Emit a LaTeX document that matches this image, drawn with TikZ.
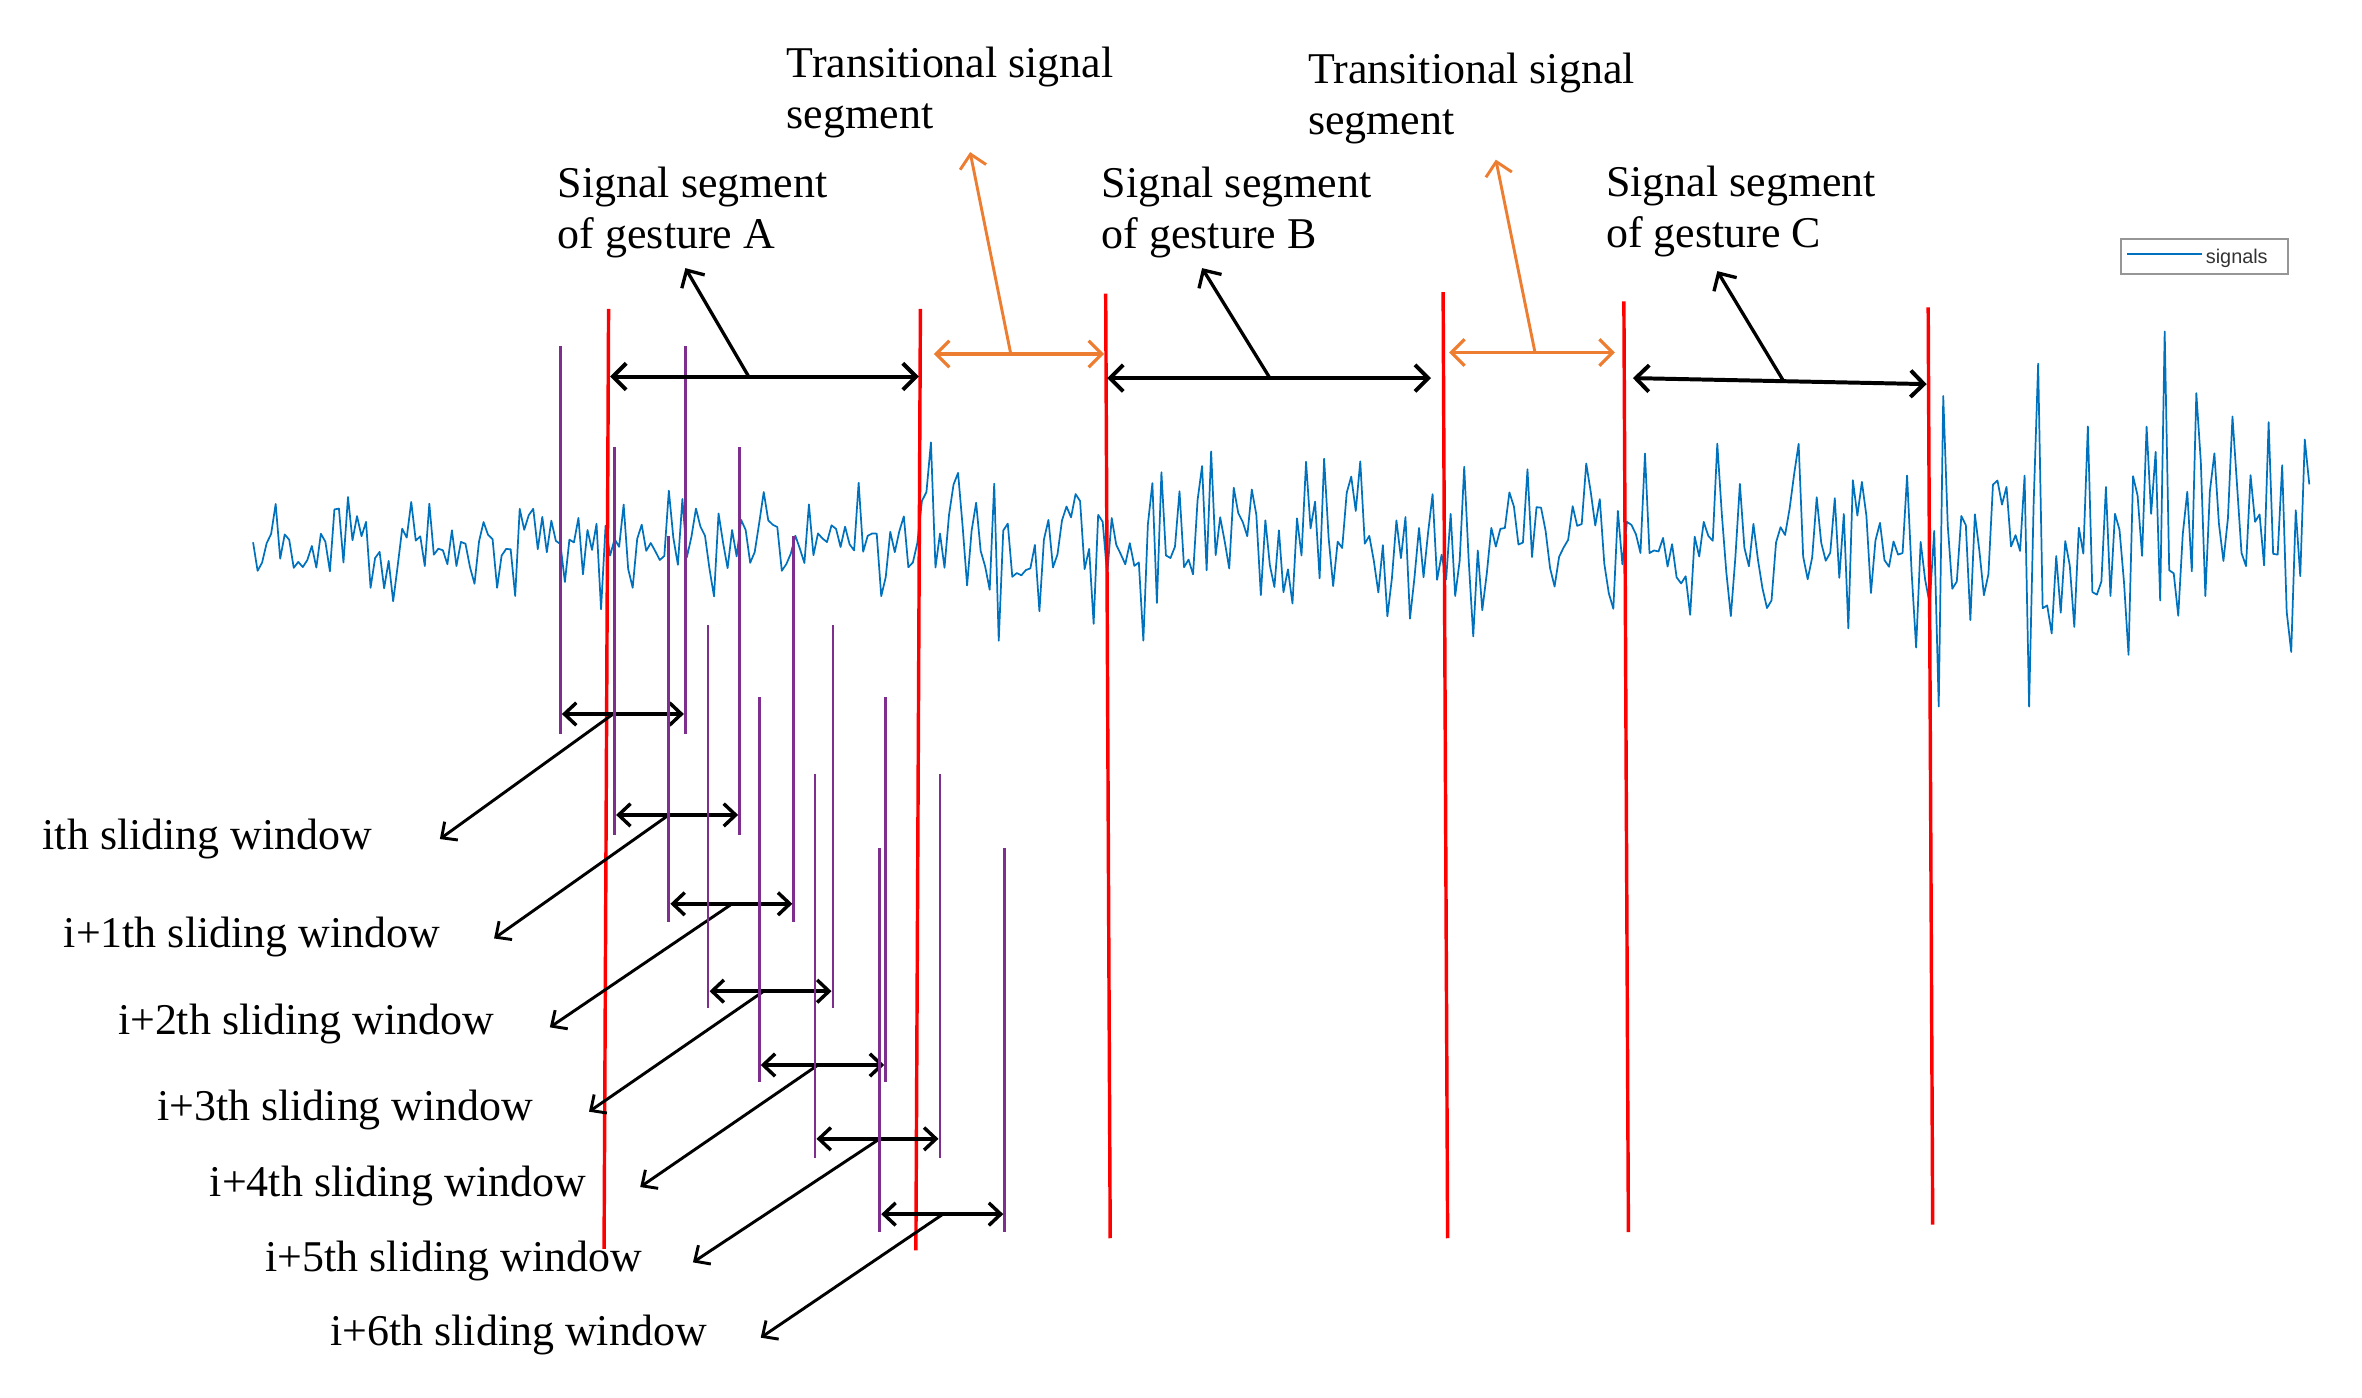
\documentclass[tikz,border=0pt]{standalone}
\usepackage{fontspec}
\setmainfont{Liberation Serif}
\newfontfamily\legendfont{Liberation Sans}
\usetikzlibrary{arrows.meta}
\definecolor{sigblue}{RGB}{0,114,189}
\definecolor{wpurple}{RGB}{126,47,142}
\definecolor{segorange}{RGB}{237,125,49}
\definecolor{legframe}{RGB}{150,150,150}
\tikzset{
  barb/.tip={Straight Barb[length=5pt,width=10pt]},
  sbarb/.tip={Straight Barb[length=4.5pt,width=8.5pt]},
  sigline/.style={sigblue, line width=0.65pt, line join=round},
  segline/.style={red, line width=1.3pt},
  winline/.style={wpurple, line width=1.1pt},
  segarrow/.style={black, line width=1.5pt, {barb}-{barb}},
  transarrow/.style={segorange, line width=1.2pt, {barb}-{barb}},
  leader/.style={black, line width=1.25pt, -{barb}},
  tleader/.style={segorange, line width=1.1pt, -{barb}},
  winarrow/.style={black, line width=1.3pt, {sbarb}-{sbarb}},
  winleader/.style={black, line width=1.1pt, -{sbarb}},
  lbl/.style={font=\fontsize{16.6}{19.2}\selectfont, inner sep=0pt, align=left},
}
\begin{document}
\begin{tikzpicture}[x=0.02cm, y=-0.02cm]
\useasboundingbox (0,0) rectangle (1568,928);

% ---------- signal ----------
\pgfmathsetseed{20230}
\xdef\sigpath{(168,360)}
\foreach \i in {1,...,455}{%
  \pgfmathsetmacro\sgx{168+3*\i}%
  \pgfmathsetmacro\sgamp{52+36*(\sgx>600)+60*(\sgx>1280)}%
  \pgfmathsetmacro\sga{rand}%
  \pgfmathsetmacro\sgb{rand}%
  \pgfmathsetmacro\sgy{362-\sgamp*(0.33*(\sga)+0.67*(\sgb)*(\sgb)*(\sgb))}%
  \xdef\sigpath{\sigpath -- (\sgx,\sgy)}%
}
\draw[sigline] \sigpath;

% ---------- segment boundaries (red) ----------
\foreach \n/\xt/\yt/\xb/\yb in {1/404/205/401/829, 2/611/205/608/830, 3/734/195/737/822,
                                4/958/194/961/822, 5/1078/200/1081/818, 6/1280/204/1283/813}{
  \coordinate (r\n t) at (\xt,\yt);
  \coordinate (r\n b) at (\xb,\yb);
  \draw[segline] (r\n t) -- (r\n b);
}

% ---------- sliding windows ----------
\foreach \n/\L/\R/\T/\B/\Y/\S/\tx/\ty/\lx/\lb/\txt in {
  0/372/455/230/487/474/407/292/557/28/564/ith,
  1/408/491/297/554/541/444/328/623/42/629/i+1th,
  2/444/527/356/612/600/486/365/682/78/687/i+2th,
  3/470/553/415/669/658/507/391/738/104/744/i+3th,
  4/504/588/463/718/707/543/425/788/139/794/i+4th,
  5/541/624/514/769/756/584/460/838/176/844/i+5th,
  6/584/667/563/818/806/626/505/888/219/893/i+6th}{
  \coordinate (wl\n t) at (\L,\T);
  \coordinate (wl\n b) at (\L,\B);
  \coordinate (wr\n t) at (\R,\T);
  \coordinate (wr\n b) at (\R,\B);
  \draw[winline] (wl\n t) -- (wl\n b);
  \draw[winline] (wr\n t) -- (wr\n b);
  \coordinate (wa\n l) at (\L+1,\Y);
  \coordinate (wa\n r) at (\R-1,\Y);
  \draw[winarrow] (wa\n l) -- (wa\n r);
  \coordinate (ws\n) at (\S,\Y);
  \coordinate (wt\n) at (\tx,\ty);
  \draw[winleader] (ws\n) -- (wt\n);
  \node[lbl, anchor=base west] (wlab\n) at (\lx,\lb) {\txt{} sliding window};
}

% ---------- gesture segments (black) ----------
\coordinate (aL) at (405,250); \coordinate (aR) at (610,250);
\coordinate (aS) at (497,250); \coordinate (aT) at (455,178);
\coordinate (bL) at (735,251); \coordinate (bR) at (950,251);
\coordinate (bS) at (843,251); \coordinate (bT) at (798,178);
\coordinate (cL) at (1084,251); \coordinate (cR) at (1279,255);
\coordinate (cS) at (1184,253); \coordinate (cT) at (1140,180);
\draw[segarrow] (aL) -- (aR);
\draw[segarrow] (bL) -- (bR);
\draw[segarrow] (cL) -- (cR);
\draw[leader] (aS) -- (aT);
\draw[leader] (bS) -- (bT);
\draw[leader] (cS) -- (cT);

% ---------- transitional segments (orange) ----------
\coordinate (t1L) at (620,235); \coordinate (t1R) at (733,235);
\coordinate (t1S) at (671,235); \coordinate (t1T) at (644,101);
\coordinate (t2L) at (962,234); \coordinate (t2R) at (1072,234);
\coordinate (t2S) at (1019,234); \coordinate (t2T) at (993,106);
\draw[transarrow] (t1L) -- (t1R);
\draw[transarrow] (t2L) -- (t2R);
\draw[tleader] (t1S) -- (t1T);
\draw[tleader] (t2S) -- (t2T);

% ---------- labels ----------
\node[lbl, anchor=north west] (labT1) at (522,31) {Transitional signal\\segment};
\node[lbl, anchor=north west] (labT2) at (868,35) {Transitional signal\\segment};
\node[lbl, anchor=north west] (labA) at (370,110.5) {Signal segment\\of gesture A};
\node[lbl, anchor=north west] (labB) at (731,110.5) {Signal segment\\of gesture B};
\node[lbl, anchor=north west] (labC) at (1066,110) {Signal segment\\of gesture C};

% ---------- legend ----------
\node[draw=legframe, line width=0.85pt, inner sep=0pt, anchor=north west,
      minimum width=2.22cm, minimum height=0.46cm] (legend) at (1407,158) {};
\coordinate (legA) at (1412,168.6);
\coordinate (legB) at (1462,168.6);
\draw[sigline] (legA) -- (legB);
\node[font=\legendfont\fontsize{7.5}{8}\selectfont, text=black!80, inner sep=0pt,
      anchor=base west] (legtext) at (1464,174.6) {signals};
\end{tikzpicture}
\end{document}
